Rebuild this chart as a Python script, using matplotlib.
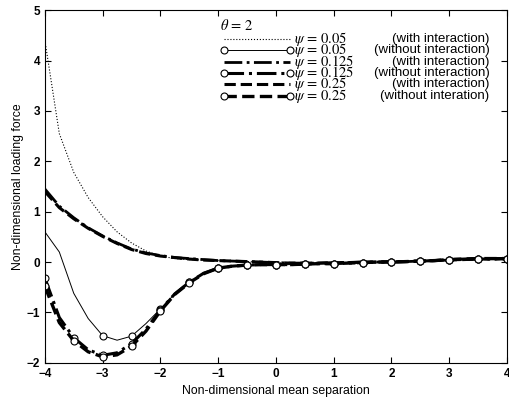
import matplotlib
matplotlib.use('Agg')
import matplotlib.pyplot as plt

plt.rcParams['font.family'] = ['Liberation Sans', 'DejaVu Sans']
plt.rcParams['mathtext.fontset'] = 'stix'

# mean separation (non-dimensional)
sep = [-4, -3.75, -3.5, -3.25, -3, -2.75, -2.5, -2.25, -2, -1.75, -1.5, -1.25,
       -1, -0.75, -0.5, -0.25, 0, 0.25, 0.5, 0.75, 1, 1.25, 1.5, 1.75,
       2, 2.25, 2.5, 2.75, 3, 3.25, 3.5, 3.75, 4]

# loading force, theta = 2
psi005_with = [4.4, 2.55, 1.78, 1.28, 0.9, 0.6, 0.38, 0.22, 0.12, 0.07, 0.05, 0.04,
               0.03, 0.02, 0.01, 0.0, -0.01, -0.02, -0.02, -0.02, -0.01, -0.01, 0.0, 0.0,
               0.01, 0.01, 0.02, 0.03, 0.04, 0.05, 0.06, 0.06, 0.07]
psi005_without = [0.6, 0.2, -0.62, -1.12, -1.46, -1.55, -1.47, -1.22, -0.93, -0.63, -0.4, -0.22,
                  -0.12, -0.08, -0.06, -0.05, -0.05, -0.05, -0.04, -0.03, -0.03, -0.02, -0.01, 0.0,
                  0.0, 0.01, 0.02, 0.03, 0.05, 0.06, 0.07, 0.07, 0.07]
psi0125_with = [1.45, 1.11, 0.88, 0.68, 0.52, 0.38, 0.26, 0.18, 0.13, 0.09, 0.07, 0.05,
                0.03, 0.02, 0.01, 0.0, -0.01, -0.02, -0.02, -0.02, -0.01, -0.01, 0.0, 0.0,
                0.01, 0.01, 0.02, 0.03, 0.04, 0.05, 0.06, 0.06, 0.07]
psi0125_without = [-0.32, -1.1, -1.5, -1.74, -1.85, -1.8, -1.62, -1.33, -0.95, -0.63, -0.4, -0.22,
                   -0.12, -0.08, -0.06, -0.05, -0.05, -0.05, -0.04, -0.03, -0.03, -0.02, -0.01, 0.0,
                   0.0, 0.01, 0.02, 0.03, 0.05, 0.06, 0.07, 0.07, 0.07]
psi025_with = [1.4, 1.08, 0.86, 0.67, 0.51, 0.37, 0.25, 0.17, 0.12, 0.09, 0.06, 0.04,
               0.03, 0.02, 0.01, 0.0, -0.01, -0.02, -0.02, -0.02, -0.01, -0.01, 0.0, 0.0,
               0.01, 0.01, 0.02, 0.03, 0.04, 0.05, 0.06, 0.06, 0.07]
psi025_without = [-0.48, -1.2, -1.56, -1.78, -1.88, -1.84, -1.67, -1.37, -0.97, -0.64, -0.41, -0.23,
                  -0.12, -0.08, -0.06, -0.05, -0.05, -0.05, -0.04, -0.03, -0.03, -0.02, -0.01, 0.0,
                  0.0, 0.01, 0.02, 0.03, 0.05, 0.06, 0.07, 0.07, 0.07]

psi_labels = [r'$\psi\,=\,0.05$', r'$\psi\,=\,0.05$', r'$\psi\,=\,0.125$',
              r'$\psi\,=\,0.125$', r'$\psi\,=\,0.25$', r'$\psi\,=\,0.25$']
notes = ['(with interaction)', '(without interaction)', '(with interaction)',
         '(without interaction)', '(with interaction)', '(without interation)']

fig = plt.figure(figsize=(5.1, 4.05), dpi=100)
ax = fig.add_axes([0.088, 0.104, 0.906, 0.871])

mk = dict(marker='o', markersize=5, markerfacecolor='white', markeredgecolor='k',
          markeredgewidth=0.8)
lines = []
lines += ax.plot(sep, psi005_with, color='k', lw=0.8, ls=':')
lines += ax.plot(sep, psi005_without, color='k', lw=0.7, ls='-', markevery=(4, 2), **mk)
lines += ax.plot(sep, psi0125_with, color='k', lw=2.0, ls='-.')
lines += ax.plot(sep, psi0125_without, color='k', lw=2.2, ls='-.', markevery=2, **mk)
lines += ax.plot(sep, psi025_with, color='k', lw=2.2, ls='--')
lines += ax.plot(sep, psi025_without, color='k', lw=2.4, ls='--', markevery=2, **mk)

ax.set_xlim(-4, 4)
ax.set_ylim(-2, 5)
ax.set_xticks(range(-4, 5))
ax.set_yticks(range(-2, 6))
ax.tick_params(direction='in', top=True, right=True, labelsize=8.5, length=4)
for lab in ax.get_xticklabels() + ax.get_yticklabels():
    lab.set_fontweight('bold')
ax.set_xlabel('Non-dimensional mean separation', fontsize=8.8, labelpad=4)
ax.set_ylabel('Non-dimensional loading force', fontsize=8.8, labelpad=2)

# legend keeps only the line samples; the entry texts are set as two columns below
leg = ax.legend(lines, [''] * len(lines), loc='upper left', bbox_to_anchor=(0.37, 0.99),
                frameon=False, title=r'$\theta\,=\,2$', title_fontsize=10.5, fontsize=8,
                labelspacing=0.13, handlelength=6.6, handletextpad=0.0,
                numpoints=2, borderaxespad=0)
leg._legend_box.align = 'left'
for t in leg.get_texts():
    t.set_visible(False)

fig.canvas.draw()
rend = fig.canvas.get_renderer()
boxes = [h.get_window_extent(rend) for h in leg.legend_handles]
rows_y = [(b.y0 + b.y1) / 2 for b in boxes]
step = (rows_y[0] - rows_y[-1]) / (len(rows_y) - 1)


def spacing_for(line, **kw):
    # linespacing that puts consecutive baselines `step` pixels apart
    gaps = []
    for ls in (0.0, 1.0):
        one = fig.text(0, 0, line, linespacing=ls, **kw)
        two = fig.text(0, 0, line + '\n' + line, linespacing=ls, **kw)
        gaps.append(two.get_window_extent(rend).height - one.get_window_extent(rend).height)
        one.remove()
        two.remove()
    return (step - gaps[0]) / (gaps[1] - gaps[0])


inv = ax.transAxes.inverted()
psi_kw = dict(fontsize=10.5)
note_kw = dict(fontsize=9.5)
mid_y = (rows_y[0] + rows_y[-1]) / 2
xa, ya = inv.transform((boxes[0].x1 + 4, mid_y))
ax.text(xa, ya, '\n'.join(psi_labels), transform=ax.transAxes, ha='left', va='center',
        linespacing=spacing_for(psi_labels[0], **psi_kw), **psi_kw)
ax.text(0.962, ya, '\n'.join(notes), transform=ax.transAxes, ha='right', va='center',
        multialignment='right', linespacing=spacing_for(notes[1], **note_kw), **note_kw)

fig.savefig('out.png', dpi=100)
